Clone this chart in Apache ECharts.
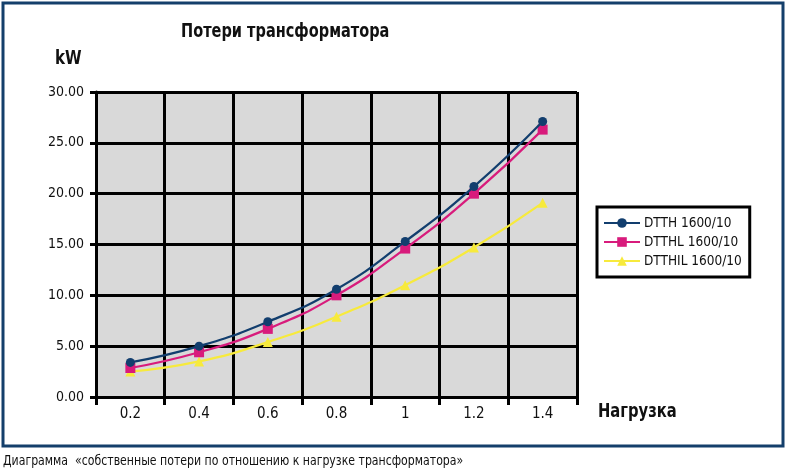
<!DOCTYPE html>
<html><head><meta charset="utf-8">
<script src="https://cdn.jsdelivr.net/npm/echarts@6/dist/echarts.min.js"></script>
<style>html,body{margin:0;padding:0;background:#fff}#c{width:788px;height:475px}</style>
</head><body><div id="c"></div>
<script>
const categories = ['0.2','0.4','0.6','0.8','1','1.2','1.4'];
const dtth   = [3.4, 5.0, 7.4, 10.6, 15.3, 20.7, 27.1];
const dtthl  = [2.85, 4.4, 6.7, 10.0, 14.6, 20.0, 26.3];
const dtthil = [2.5, 3.5, 5.4, 7.9, 11.0, 14.7, 19.1];
const seriesNames = ['DTTH 1600/10','DTTHL 1600/10','DTTHIL 1600/10'];
const FONT = '"DejaVu Sans Condensed","Liberation Sans Narrow",sans-serif';
const chart = echarts.init(document.getElementById('c'));
chart.setOption({
  animation:false,
  backgroundColor:'#fff',
  textStyle:{fontFamily:FONT},
  graphic:[
    {type:'rect',shape:{x:3,y:3,width:780,height:443},style:{fill:'none',stroke:'#143f6b',lineWidth:3}},
    {type:'text',x:3,y:454,scaleX:0.87,originX:0,originY:0,style:{text:'Диаграмма  «собственные потери по отношению к нагрузке трансформатора»',font:'14px '+FONT,fill:'#111'}},
    {type:'text',x:181,y:23,scaleX:0.85,originX:0,originY:0,style:{text:'Потери трансформатора',font:'bold 19px '+FONT,fill:'#111'}},
    {type:'text',x:55,y:50,scaleX:0.88,originX:0,originY:0,style:{text:'kW',font:'bold 19px '+FONT,fill:'#111'}},
    {type:'text',x:598,y:402,scaleX:0.82,originX:0,originY:0,style:{text:'Нагрузка',font:'bold 20px '+FONT,fill:'#111'}}
  ],
  legend:{
    orient:'vertical',left:597,top:207,
    backgroundColor:'#fff',borderColor:'#000',borderWidth:3,borderRadius:0,
    padding:[9,8,9,6],itemGap:5,itemWidth:36,itemHeight:12,
    textStyle:{fontFamily:FONT,fontSize:13.5,color:'#111',padding:[0,0,0,-1]},
    data:seriesNames
  },
  grid:{left:96,right:211,top:92,bottom:78,show:true,backgroundColor:'#d9d9d9',borderWidth:0},
  xAxis:{
    type:'category',data:categories,boundaryGap:true,
    axisLine:{lineStyle:{color:'#000',width:3}},
    axisTick:{show:true,length:8,lineStyle:{color:'#000',width:3}},
    axisLabel:{fontFamily:FONT,fontSize:15,color:'#111',margin:10},
    splitLine:{show:true,lineStyle:{color:'#000',width:3}}
  },
  yAxis:{
    type:'value',min:0,max:30,interval:5,
    axisLine:{show:true,lineStyle:{color:'#000',width:3}},
    axisTick:{show:true,length:6,lineStyle:{color:'#000',width:3}},
    axisLabel:{fontFamily:FONT,fontSize:14,color:'#111',margin:12,formatter:v=>v.toFixed(2)},
    splitLine:{show:true,lineStyle:{color:'#000',width:3}}
  },
  series:[
    {name:seriesNames[0],type:'line',data:dtth,smooth:true,symbol:'circle',symbolSize:9,
     lineStyle:{color:'#123e6e',width:2.2},itemStyle:{color:'#123e6e'},z:5},
    {name:seriesNames[1],type:'line',data:dtthl,smooth:true,symbol:'rect',symbolSize:10,
     lineStyle:{color:'#d81b7c',width:2.2},itemStyle:{color:'#d81b7c'},z:4},
    {name:seriesNames[2],type:'line',data:dtthil,smooth:true,symbol:'triangle',symbolSize:10,
     lineStyle:{color:'#f7ea3c',width:2.2},itemStyle:{color:'#f7ea3c'},z:3}
  ]
});
</script></body></html>
